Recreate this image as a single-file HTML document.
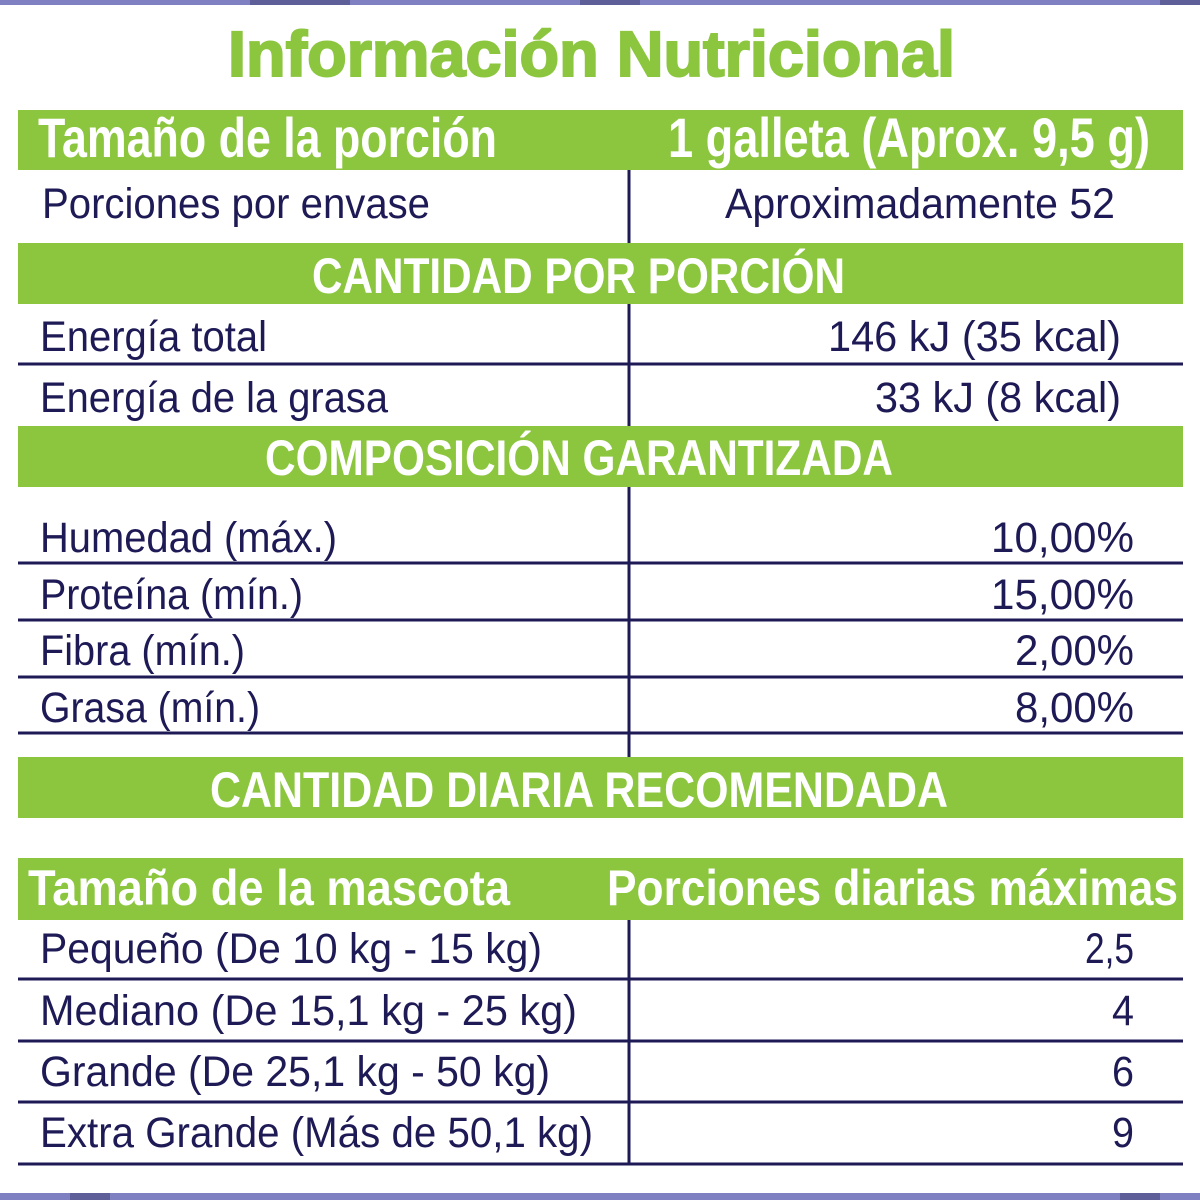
<!DOCTYPE html>
<html><head><meta charset="utf-8"><style>
html,body{margin:0;padding:0;background:#fff;}
svg{display:block}
text{font-family:"Liberation Sans",sans-serif;}
.n{fill:#1e1a55}
</style></head><body>
<svg width="1200" height="1200" viewBox="0 0 1200 1200" xmlns="http://www.w3.org/2000/svg">
<rect x="0" y="0" width="1200" height="5" fill="#7f80c2"/>
<rect x="250" y="0" width="100" height="5" fill="#5e5f99"/>
<rect x="580" y="0" width="60" height="5" fill="#5e5f99"/>
<rect x="1160" y="0" width="40" height="5" fill="#5e5f99"/>
<rect x="0" y="1193" width="1200" height="7" fill="#7f80c2"/>
<rect x="70" y="1193" width="40" height="7" fill="#5e5f99"/>
<rect x="1120" y="1193" width="40" height="7" fill="#5e5f99"/>

<text x="228" y="76" font-size="64" font-weight="bold" fill="#8cc63f" stroke="#8cc63f" stroke-width="2" textLength="727" lengthAdjust="spacingAndGlyphs">Información Nutricional</text>

<g fill="#8cc63f">
<rect x="18" y="110" width="1165" height="60"/>
<rect x="18" y="243" width="1165" height="61"/>
<rect x="18" y="426" width="1165" height="61"/>
<rect x="18" y="757" width="1165" height="61"/>
<rect x="18" y="858" width="1165" height="62"/>
</g>

<g stroke="#1e1a55" stroke-width="3">
<line x1="629" y1="170" x2="629" y2="243"/>
<line x1="629" y1="304" x2="629" y2="426"/>
<line x1="18" y1="364" x2="1183" y2="364"/>
<line x1="629" y1="487" x2="629" y2="757"/>
<line x1="18" y1="563" x2="1183" y2="563"/>
<line x1="18" y1="620" x2="1183" y2="620"/>
<line x1="18" y1="677" x2="1183" y2="677"/>
<line x1="18" y1="733" x2="1183" y2="733"/>
<line x1="629" y1="920" x2="629" y2="1164"/>
<line x1="18" y1="979" x2="1183" y2="979"/>
<line x1="18" y1="1041" x2="1183" y2="1041"/>
<line x1="18" y1="1102" x2="1183" y2="1102"/>
<line x1="18" y1="1164" x2="1183" y2="1164"/>
</g>

<g font-size="56" font-weight="bold" fill="#fff">
<text x="38" y="157" textLength="459" lengthAdjust="spacingAndGlyphs">Tamaño de la porción</text>
<text x="668" y="157" textLength="482" lengthAdjust="spacingAndGlyphs">1 galleta (Aprox. 9,5 g)</text>
</g>
<g font-size="50" font-weight="bold" fill="#fff">
<text x="312" y="293" textLength="533" lengthAdjust="spacingAndGlyphs">CANTIDAD POR PORCIÓN</text>
<text x="265" y="475" textLength="628" lengthAdjust="spacingAndGlyphs">COMPOSICIÓN GARANTIZADA</text>
<text x="210" y="807" textLength="738" lengthAdjust="spacingAndGlyphs">CANTIDAD DIARIA RECOMENDADA</text>
</g>
<g font-size="50" font-weight="bold" fill="#fff">
<text x="28" y="905" textLength="482" lengthAdjust="spacingAndGlyphs">Tamaño de la mascota</text>
<text x="607" y="905" textLength="571" lengthAdjust="spacingAndGlyphs">Porciones diarias máximas</text>
</g>

<g font-size="43" class="n">
<text x="42" y="218" textLength="388" lengthAdjust="spacingAndGlyphs">Porciones por envase</text>
<text x="725" y="218" textLength="390" lengthAdjust="spacingAndGlyphs">Aproximadamente 52</text>
<text x="40" y="351" textLength="227" lengthAdjust="spacingAndGlyphs">Energía total</text>
<text x="828" y="351" textLength="293" lengthAdjust="spacingAndGlyphs">146 kJ (35 kcal)</text>
<text x="40" y="412" textLength="348" lengthAdjust="spacingAndGlyphs">Energía de la grasa</text>
<text x="875" y="412" textLength="246" lengthAdjust="spacingAndGlyphs">33 kJ (8 kcal)</text>
<text x="40" y="552" textLength="297" lengthAdjust="spacingAndGlyphs">Humedad (máx.)</text>
<text x="991" y="552" textLength="143" lengthAdjust="spacingAndGlyphs">10,00%</text>
<text x="40" y="609" textLength="263" lengthAdjust="spacingAndGlyphs">Proteína (mín.)</text>
<text x="991" y="609" textLength="143" lengthAdjust="spacingAndGlyphs">15,00%</text>
<text x="40" y="665" textLength="205" lengthAdjust="spacingAndGlyphs">Fibra (mín.)</text>
<text x="1015" y="665" textLength="119" lengthAdjust="spacingAndGlyphs">2,00%</text>
<text x="40" y="722" textLength="220" lengthAdjust="spacingAndGlyphs">Grasa (mín.)</text>
<text x="1015" y="722" textLength="119" lengthAdjust="spacingAndGlyphs">8,00%</text>
<text x="40" y="963" textLength="502" lengthAdjust="spacingAndGlyphs">Pequeño (De 10 kg - 15 kg)</text>
<text x="1085" y="963" textLength="49" lengthAdjust="spacingAndGlyphs">2,5</text>
<text x="40" y="1025" textLength="537" lengthAdjust="spacingAndGlyphs">Mediano (De 15,1 kg - 25 kg)</text>
<text x="1112" y="1025" textLength="22" lengthAdjust="spacingAndGlyphs">4</text>
<text x="40" y="1086" textLength="510" lengthAdjust="spacingAndGlyphs">Grande (De 25,1 kg - 50 kg)</text>
<text x="1112" y="1086" textLength="22" lengthAdjust="spacingAndGlyphs">6</text>
<text x="40" y="1147" textLength="553" lengthAdjust="spacingAndGlyphs">Extra Grande (Más de 50,1 kg)</text>
<text x="1112" y="1147" textLength="22" lengthAdjust="spacingAndGlyphs">9</text>
</g>
</svg>
</body></html>
